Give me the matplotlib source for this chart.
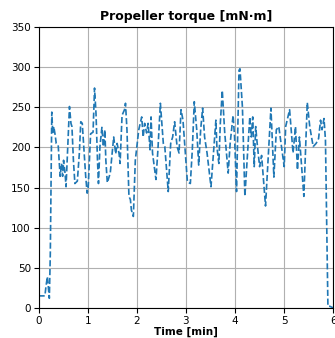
import matplotlib
matplotlib.use("Agg")
import matplotlib.pyplot as plt

# time in minutes
time_min = [0.0, 0.13, 0.15, 0.18, 0.20, 0.22, 0.24, 0.27, 0.29, 0.31, 0.34, 0.36,
            0.40, 0.44, 0.47, 0.49, 0.51, 0.54, 0.56, 0.61, 0.63, 0.66, 0.68,
            0.71, 0.74, 0.79, 0.83, 0.86, 0.89, 0.92, 0.96, 0.99, 1.01, 1.06,
            1.11, 1.14, 1.17, 1.20, 1.22, 1.25, 1.29, 1.32, 1.35, 1.37, 1.40,
            1.46, 1.51, 1.53, 1.57, 1.60, 1.64, 1.66, 1.70, 1.75, 1.77, 1.80,
            1.84, 1.87, 1.89, 1.93, 1.97, 2.04, 2.10, 2.13, 2.16, 2.20, 2.23,
            2.27, 2.29, 2.32, 2.39, 2.43, 2.48, 2.54, 2.57, 2.64, 2.69, 2.73,
            2.77, 2.82, 2.86, 2.90, 2.94, 3.03, 3.09, 3.13, 3.17, 3.22, 3.26,
            3.30, 3.34, 3.38, 3.43, 3.51, 3.55, 3.61, 3.63, 3.67, 3.70, 3.74,
            3.79, 3.86, 3.90, 3.96, 3.99, 4.03, 4.08, 4.10, 4.15, 4.20, 4.30,
            4.33, 4.36, 4.39, 4.42, 4.45, 4.50, 4.54, 4.62, 4.73, 4.79, 4.84,
            4.89, 5.00, 5.03, 5.11, 5.18, 5.23, 5.27, 5.31, 5.40, 5.47, 5.52,
            5.59, 5.65, 5.70, 5.74, 5.77, 5.81, 5.84, 5.86, 5.89, 5.93, 6.0]

# propeller torque in mN·m
torque = [15, 15, 26, 39, 26, 12, 68, 244, 217, 226, 215, 205,
          203, 164, 180, 164, 184, 168, 151, 222, 251, 230, 226,
          184, 155, 158, 192, 232, 230, 201, 164, 143, 149, 217,
          219, 274, 242, 184, 155, 201, 225, 201, 222, 184, 156,
          168, 201, 213, 192, 205, 192, 180, 240, 247, 255, 222,
          139, 135, 122, 114, 184, 222, 238, 213, 230, 218, 230,
          197, 238, 193, 160, 197, 255, 205, 201, 145, 205, 213,
          232, 201, 193, 247, 234, 157, 155, 197, 257, 222, 178,
          222, 249, 213, 193, 151, 184, 234, 201, 180, 230, 271,
          218, 168, 205, 240, 213, 145, 296, 298, 250, 139, 238,
          213, 238, 176, 226, 205, 176, 190, 127, 249, 163, 222,
          226, 176, 226, 247, 193, 226, 172, 213, 139, 256, 226,
          201, 205, 211, 234, 222, 236, 209, 126, 2, 2, 0]

fig = plt.figure(figsize=(3.35, 3.38), dpi=100)
ax = fig.add_axes([0.115, 0.089, 0.88, 0.831])

ax.plot(time_min, torque, "--", color="tab:blue", linewidth=1.2)
ax.set_xlim(0, 6)
ax.set_ylim(0, 350)
ax.set_title("Propeller torque [mN·m]", fontsize=9, fontweight="bold", pad=5)
ax.set_xlabel("Time [min]", fontsize=7.5, fontweight="bold", labelpad=1)
ax.tick_params(labelsize=7.5, pad=2)
ax.grid(True, color="#b0b0b0", linewidth=0.8)

fig.savefig("out.png", dpi=100)
